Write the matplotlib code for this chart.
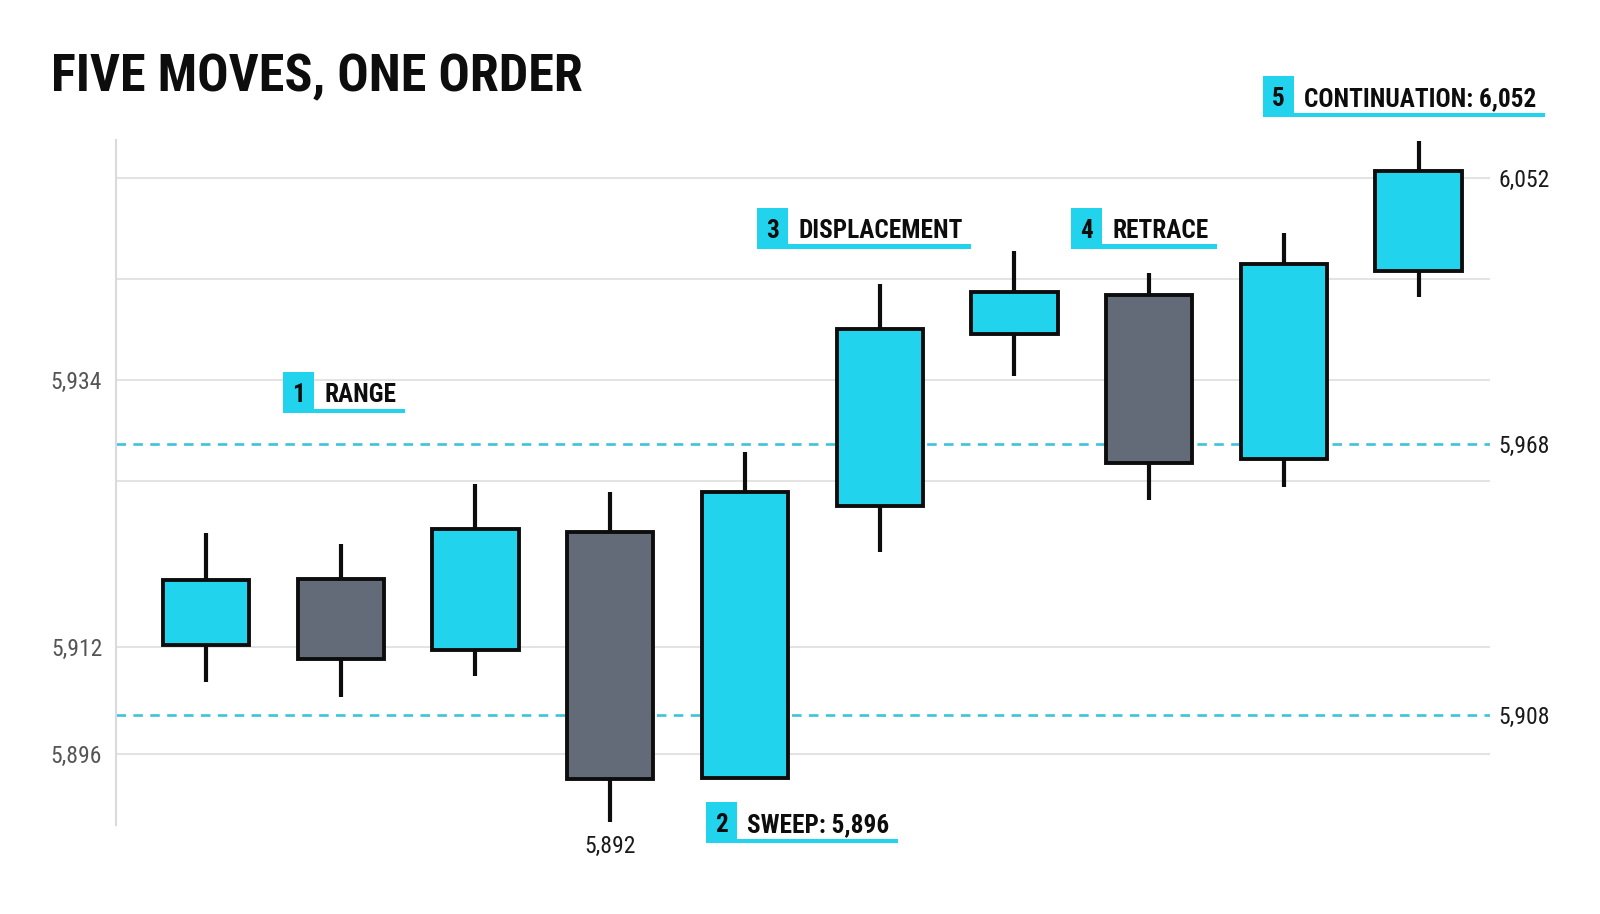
import matplotlib
matplotlib.use("Agg")
import matplotlib.pyplot as plt
from matplotlib import font_manager
from matplotlib.patches import Rectangle

# ---------------- data ----------------
candle_idx = list(range(10))
opens  = [5926.8, 5944.5, 5925.4, 5957.1, 5891.1, 5964.0, 6010.2, 6020.6, 5976.6, 6027.1]
highs  = [5956.8, 5953.9, 5969.9, 5967.8, 5978.5, 6023.6, 6032.4, 6026.5, 6037.3, 6061.9]
lows   = [5916.8, 5912.8, 5918.5, 5879.3, 5891.1, 5951.7, 5998.9, 5965.7, 5969.1, 6020.1]
closes = [5944.2, 5923.0, 5957.9, 5890.8, 5967.8, 6011.5, 6021.4, 5975.6, 6028.9, 6053.9]

grid_levels = [6052.0, 6024.9, 5997.8, 5970.7, 5926.2, 5897.5]
left_tick_vals = [5997.8, 5926.2, 5897.5]
left_tick_labels = ["5,934", "5,912", "5,896"]
right_tick_vals = [6052.0, 5980.7, 5908.0]
right_tick_labels = ["6,052", "5,968", "5,908"]
dashed_levels = [5980.7, 5908.0]

low_label_idx = 3
low_label_text = "5,892"

stage_nums = ["1", "2", "3", "4", "5"]
stage_texts = ["RANGE", "SWEEP: 5,896", "DISPLACEMENT", "RETRACE", "CONTINUATION: 6,052"]

title = "FIVE MOVES, ONE ORDER"

# ---------------- style ----------------
CYAN = "#22D3EE"
GRAY = "#646B78"
DASH = "#3EC3D8"
INK = "#0D0D0D"

names = {f.name for f in font_manager.fontManager.ttflist}
COND = "Roboto Condensed" if "Roboto Condensed" in names else "Roboto"

W, H = 1600, 914
fig = plt.figure(figsize=(W / 100, H / 100), dpi=100)
fig.patch.set_facecolor("white")

ax = fig.add_axes([116 / W, 1 - 825 / H, (1490 - 116) / W, (825 - 140) / H])
ax.set_xlim(-0.668, 9.53)
ax.set_ylim(5878.5, 6062.2)

for lvl in grid_levels:
    ax.axhline(lvl, color="#E3E3E3", lw=1.4, zorder=0)
for lvl in dashed_levels:
    ax.axhline(lvl, color=DASH, lw=1.9, ls=(0, (3.6, 2.8)), zorder=1)

for i, o, h, l, c in zip(candle_idx, opens, highs, lows, closes):
    fill = CYAN if c >= o else GRAY
    ax.vlines(i, l, h, color=INK, lw=3.0, zorder=2)
    ax.bar(i, abs(c - o), bottom=min(o, c), width=0.64, color=fill,
           edgecolor=INK, linewidth=2.8, zorder=3)

for s in ["top", "right", "bottom"]:
    ax.spines[s].set_visible(False)
ax.spines["left"].set_color("#DADADA")
ax.spines["left"].set_linewidth(1.5)
ax.set_xticks([])
ax.set_yticks(left_tick_vals)
ax.set_yticklabels(left_tick_labels)
ax.tick_params(axis="y", length=0, pad=10, labelsize=17, labelcolor="#555555")
for t in ax.get_yticklabels():
    t.set_fontfamily(COND)

ax2 = ax.twinx()
ax2.set_ylim(ax.get_ylim())
for s in ax2.spines.values():
    s.set_visible(False)
ax2.set_yticks(right_tick_vals)
ax2.set_yticklabels(right_tick_labels)
ax2.tick_params(axis="y", length=0, pad=6, labelsize=17, labelcolor="#1A1A1A")
for t in ax2.get_yticklabels():
    t.set_fontfamily(COND)

ax.annotate(low_label_text, (candle_idx[low_label_idx], lows[low_label_idx]),
            xytext=(0, -9), textcoords="offset points", ha="center", va="top",
            fontsize=17, color="#1A1A1A", family=COND, annotation_clip=False)

# title
fig.text(51 / W, 1 - 91 / H, title, fontsize=37.5, fontweight="bold",
         family=COND, color=INK, va="baseline", ha="left")

# stage labels (box left px, box bottom px)
label_pos = [(283, 413), (706, 843), (757, 249), (1071, 249), (1263, 117)]
renderer = fig.canvas.get_renderer()
for (x0, yb), num, txt in zip(label_pos, stage_nums, stage_texts):
    bw, bh = 31, 41
    fig.add_artist(Rectangle((x0 / W, 1 - yb / H), bw / W, bh / H,
                             transform=fig.transFigure, color=CYAN, lw=0, zorder=5))
    fig.text((x0 + bw / 2) / W, 1 - (yb - 11) / H, num, fontsize=18.2,
             fontweight="bold", family=COND, color=INK, ha="center",
             va="baseline", zorder=6)
    t = fig.text((x0 + 41) / W, 1 - (yb - 11) / H, txt, fontsize=18.2,
                 fontweight="bold", family=COND, color=INK, ha="left",
                 va="baseline", zorder=6)
    bb = t.get_window_extent(renderer)
    x_end = bb.x1 + 9
    fig.add_artist(Rectangle((x0 / W, 1 - yb / H), (x_end - x0) / W, 4.5 / H,
                             transform=fig.transFigure, color=CYAN, lw=0, zorder=5))

fig.savefig("out.png", dpi=100, facecolor="white")
